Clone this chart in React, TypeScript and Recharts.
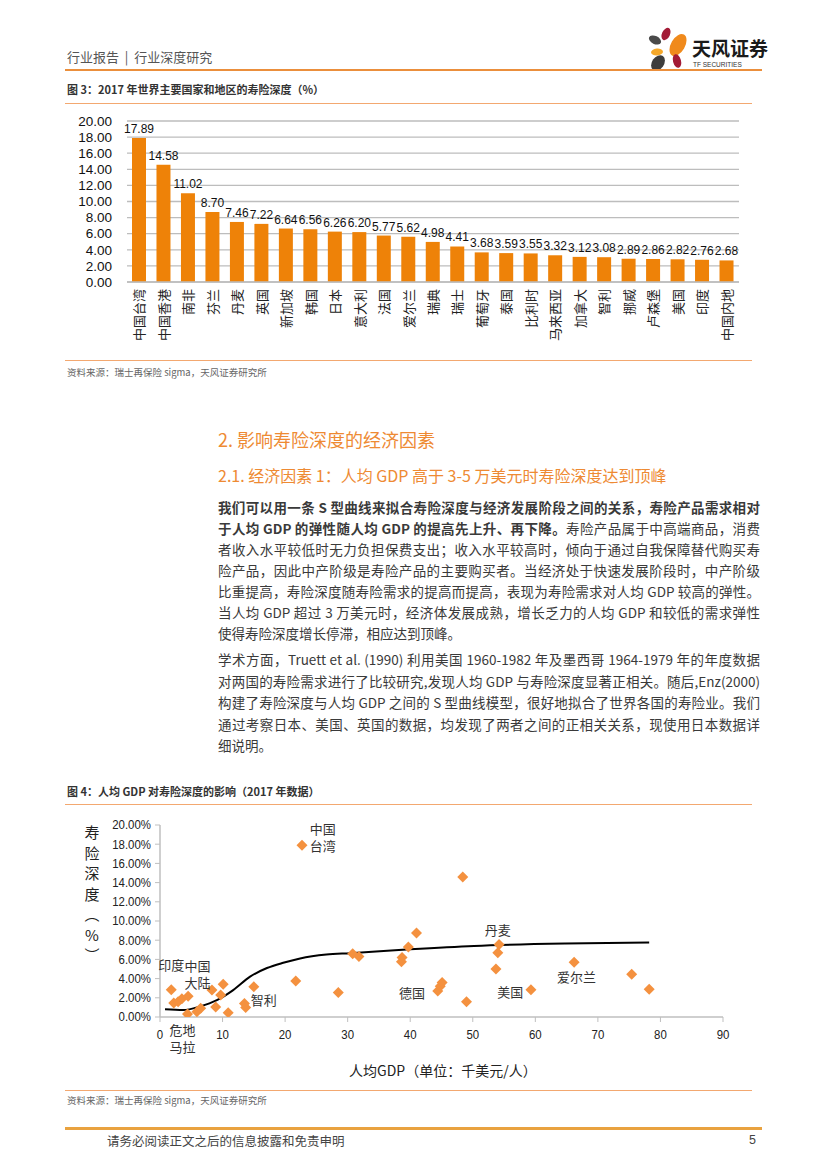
import React from 'react';
import {
  BarChart, Bar, XAxis, YAxis, CartesianGrid, LabelList,
  ComposedChart, Scatter, Line, ReferenceDot,
} from 'recharts';

// ---------- Figure 3 data ----------
const countries = ['中国台湾', '中国香港', '南非', '芬兰', '丹麦', '英国', '新加坡', '韩国', '日本', '意大利', '法国', '爱尔兰', '瑞典', '瑞士', '葡萄牙', '泰国', '比利时', '马来西亚', '加拿大', '智利', '挪威', '卢森堡', '美国', '印度', '中国内地'];
const depthValues = [17.89, 14.58, 11.02, 8.70, 7.46, 7.22, 6.64, 6.56, 6.26, 6.20, 5.77, 5.62, 4.98, 4.41, 3.68, 3.59, 3.55, 3.32, 3.12, 3.08, 2.89, 2.86, 2.82, 2.76, 2.68];
const barTicks = [0, 2, 4, 6, 8, 10, 12, 14, 16, 18, 20];

// ---------- Figure 4 data ----------
const gdpX = [1.8, 2.2, 2.9, 3.5, 4.5, 4.4, 5.9, 6.5, 8.3, 8.9, 9.7, 10.1, 10.9, 13.5, 13.7, 15.0, 21.7, 28.5, 30.8, 31.8, 38.7, 38.6, 39.7, 41.0, 44.4, 44.8, 45.1, 49.0, 48.4, 22.7, 54.2, 54.0, 53.7, 59.3, 66.2, 75.4, 78.2];
const depthY = [2.85, 1.45, 1.6, 1.9, 2.15, 0.3, 0.55, 0.9, 2.8, 1.05, 2.3, 3.4, 0.45, 1.4, 1.0, 3.15, 3.75, 2.55, 6.6, 6.3, 6.2, 5.75, 7.3, 8.75, 2.7, 3.2, 3.6, 1.6, 14.58, 17.89, 7.55, 6.7, 5.0, 2.85, 5.7, 4.45, 2.9];
const curveX = [0.8, 3.7, 6.4, 9.1, 11.7, 14.4, 17.1, 19.7, 22.4, 26.6, 30.4, 40, 50.2, 64.8, 78.2];
const curveY = [0.8, 0.73, 1.1, 1.75, 2.8, 4.2, 5.1, 5.65, 6.1, 6.5, 6.65, 7.05, 7.4, 7.65, 7.75];
const scatterXTicks = [0, 10, 20, 30, 40, 50, 60, 70, 80, 90];
const scatterYTicks = [0, 2, 4, 6, 8, 10, 12, 14, 16, 18, 20];
const annoLabels = [['中国', '台湾'], ['印度'], ['中国', '大陆'], ['危地', '马拉'], ['智利'], ['德国'], ['丹麦'], ['美国'], ['爱尔兰']];
const annoX = [26.0, 1.8, 6.0, 3.6, 16.6, 40.3, 54.0, 56.0, 66.6];
const annoY = [18.7, 5.4, 4.4, -2.2, 1.8, 2.5, 9.1, 2.6, 4.2];

const barData = countries.map((name, i) => ({ name, value: depthValues[i] }));
const scatterData = gdpX.map((x, i) => ({ x, y: depthY[i] }));
const curveData = curveX.map((x, i) => ({ x, y: curveY[i] }));

const CJK = '"Noto Sans CJK SC", "Noto Sans", sans-serif';
const LAT = '"Liberation Sans", Arial, sans-serif';
const ORANGE = '#EE8A33';

function CatTick(props: any) {
  const { x, y, payload } = props;
  return (
    <g transform={`translate(${x},${y})`}>
      <text transform="rotate(-90)" x={-7} y={0} dy={5} textAnchor="end" fontSize={13} fill="#222" fontFamily={CJK}>
        {payload.value}
      </text>
    </g>
  );
}

function PctTick(props: any) {
  const { x, y, payload } = props;
  return (
    <text x={x} y={y} dy={4.5} textAnchor="end" fontSize={13} fill="#222" fontFamily={LAT}
      transform={`translate(${x},0) scale(0.88,1) translate(${-x},0)`}>
      {payload.value.toFixed(2)}%
    </text>
  );
}

function NumTick(props: any) {
  const { x, y, payload } = props;
  return (
    <text x={x} y={y} dy={17} textAnchor="middle" fontSize={13} fill="#222" fontFamily={LAT}
      transform={`translate(${x},0) scale(0.88,1) translate(${-x},0)`}>
      {payload.value}
    </text>
  );
}

function Diamond(props: any) {
  const { cx, cy } = props;
  const s = 5.5;
  return <polygon points={`${cx},${cy - s} ${cx + s},${cy} ${cx},${cy + s} ${cx - s},${cy}`} fill="#F4913F" />;
}

function T({ x, y, size = 13, color = '#333', bold = false, children, font = CJK }: any) {
  const lh = size * 1.4;
  return (
    <div style={{ position: 'absolute', left: x, top: y - lh / 2, fontSize: size, lineHeight: `${lh}px`, color, fontWeight: bold ? 700 : 400, fontFamily: font, whiteSpace: 'pre' }}>
      {children}
    </div>
  );
}

function JL({ y, children, last = false }: any) {
  const lh = 20;
  return (
    <div style={{ position: 'absolute', left: 218, top: y - lh / 2, width: 542, fontSize: 13.5, lineHeight: `${lh}px`, color: '#3a3a3a', fontFamily: CJK, whiteSpace: 'nowrap', textAlign: last ? 'left' : 'justify', textAlignLast: last ? 'left' : 'justify' } as any}>
      {children}
    </div>
  );
}

function HLine({ y, x1 = 65, x2 = 762, h = 1, color = '#F2A66A' }: any) {
  return <div style={{ position: 'absolute', left: x1, top: y - h / 2, width: x2 - x1, height: h, background: color }} />;
}

const p1 = [
  <><b>我们可以用一条 S 型曲线来拟合寿险深度与经济发展阶段之间的关系，寿险产品需求相对</b></>,
  <><b>于人均 GDP 的弹性随人均 GDP 的提高先上升、再下降。</b>寿险产品属于中高端商品，消费</>,
  <>者收入水平较低时无力负担保费支出；收入水平较高时，倾向于通过自我保障替代购买寿</>,
  <>险产品，因此中产阶级是寿险产品的主要购买者。当经济处于快速发展阶段时，中产阶级</>,
  <>比重提高，寿险深度随寿险需求的提高而提高，表现为寿险需求对人均 GDP 较高的弹性。</>,
  <>当人均 GDP 超过 3 万美元时，经济体发展成熟，增长乏力的人均 GDP 和较低的需求弹性</>,
  <>使得寿险深度增长停滞，相应达到顶峰。</>,
];
const p2 = [
  <>学术方面，Truett et al. (1990) 利用美国 1960-1982 年及墨西哥 1964-1979 年的年度数据</>,
  <>对两国的寿险需求进行了比较研究,发现人均 GDP 与寿险深度显著正相关。随后,Enz(2000)</>,
  <>构建了寿险深度与人均 GDP 之间的 S 型曲线模型，很好地拟合了世界各国的寿险业。我们</>,
  <>通过考察日本、美国、英国的数据，均发现了两者之间的正相关关系，现使用日本数据详</>,
  <>细说明。</>,
];

const yTitle = ['寿', '险', '深', '度', '︵', '%', '︶'];

export default function App() {
  return (
    <div style={{ position: 'absolute', left: 0, top: 0, width: 827, height: 1169, background: '#fff', overflow: 'hidden' }}>
      {/* header */}
      <T x={67} y={57} size={13} color="#555">{'行业报告  |  行业深度研究'}</T>
      <svg style={{ position: 'absolute', left: 640, top: 26 }} width={130} height={50}>
        <ellipse cx={26} cy={8} rx={4} ry={6.5} transform="rotate(25 26 8)" fill="#A31B36" />
        <ellipse cx={38} cy={19} rx={7} ry={12} transform="rotate(30 38 19)" fill="#F08A1C" />
        <ellipse cx={15} cy={14} rx={6.5} ry={4} transform="rotate(25 15 14)" fill="#4a4a4a" />
        <ellipse cx={17} cy={26} rx={6} ry={3.5} transform="rotate(-5 17 26)" fill="#F5A82A" />
        <ellipse cx={18} cy={37} rx={6} ry={8.5} transform="rotate(35 18 37)" fill="#3d3d3d" />
        <ellipse cx={37} cy={35} rx={4} ry={7} transform="rotate(-15 37 35)" fill="#A31B36" />
        <text x={52} y={30} fontSize={19} fontWeight={700} fill="#1a1a1a" fontFamily={CJK}>天风证券</text>
        <text x={53} y={41} fontSize={6.5} fill="#333" fontFamily={LAT}>TF SECURITIES</text>
      </svg>
      <HLine y={70} h={2.5} color="#EB8F3C" />

      {/* figure 3 */}
      <T x={67} y={90} size={11} bold color="#333">图 3：2017 年世界主要国家和地区的寿险深度（%）</T>
      <HLine y={103} x2={752} color="#F3A870" />
      <div style={{ position: 'absolute', left: 60, top: 105 }}>
        <BarChart width={700} height={247} data={barData} margin={{ top: 16, right: 21, bottom: 0, left: 0 }} barSize={14}>
          <CartesianGrid vertical={false} stroke="#BDBDBD" strokeWidth={1.3} />
          <XAxis dataKey="name" interval={0} tick={<CatTick />} tickLine={false} axisLine={{ stroke: '#BDBDBD', strokeWidth: 1.3 }} height={70} tickSize={0} tickMargin={0} />
          <YAxis width={67} domain={[0, 20]} ticks={barTicks} interval={0} tickFormatter={(v: number) => v.toFixed(2)} axisLine={false} tickLine={false} tickSize={0} tickMargin={15} tick={{ fontSize: 13.5, fill: '#111', fontFamily: LAT }} />
          <Bar dataKey="value" fill="#EE8208" isAnimationActive={false}>
            <LabelList dataKey="value" position="top" offset={5} formatter={(v: any) => Number(v).toFixed(2)} style={{ fontSize: 12, fill: '#111', fontFamily: LAT }} />
          </Bar>
        </BarChart>
      </div>
      <HLine y={360} x2={752} color="#F3A870" />
      <T x={67} y={373} size={9.5} color="#666">资料来源：瑞士再保险 sigma，天风证券研究所</T>

      {/* section text */}
      <T x={218} y={440} size={18} color={ORANGE}>2. 影响寿险深度的经济因素</T>
      <T x={218} y={475} size={16} color={ORANGE}>2.1. 经济因素 1：人均 GDP 高于 3-5 万美元时寿险深度达到顶峰</T>
      {p1.map((c, i) => <JL key={'a' + i} y={507 + i * 21} last={i === p1.length - 1}>{c}</JL>)}
      {p2.map((c, i) => <JL key={'b' + i} y={659 + i * 21.5} last={i === p2.length - 1}>{c}</JL>)}

      {/* figure 4 */}
      <T x={67} y={792} size={11} bold color="#333">图 4：人均 GDP 对寿险深度的影响（2017 年数据）</T>
      <HLine y={804} x2={752} color="#F3A870" />
      {yTitle.map((ch, i) => (
        <div key={'yt' + i} style={{ position: 'absolute', left: 82, top: 822 + i * 20.5, width: 20, textAlign: 'center', fontSize: 15, lineHeight: '20px', color: '#222', fontFamily: CJK }}>{ch}</div>
      ))}
      <div style={{ position: 'absolute', left: 60, top: 810 }}>
        <ComposedChart width={700} height={260} margin={{ top: 15, right: 37, bottom: 0, left: 0 }}>
          <XAxis type="number" dataKey="x" domain={[0, 90]} ticks={scatterXTicks} interval={0} tick={<NumTick />} axisLine={{ stroke: '#BFBFBF', strokeWidth: 1.5 }} tickLine={{ stroke: '#BFBFBF' }} tickSize={5} tickMargin={0} height={53} allowDataOverflow />
          <YAxis type="number" dataKey="y" domain={[0, 20]} ticks={scatterYTicks} interval={0} tick={<PctTick />} axisLine={{ stroke: '#BFBFBF', strokeWidth: 1.5 }} tickLine={{ stroke: '#BFBFBF' }} tickSize={5} tickMargin={4} width={100} allowDataOverflow />
          <Scatter data={scatterData} dataKey="y" shape={<Diamond />} isAnimationActive={false} />
          <Line data={curveData} dataKey="y" type="monotone" stroke="#000" strokeWidth={2} dot={false} isAnimationActive={false} />
          {annoLabels.map((lines, i) => (
            <ReferenceDot key={'an' + i} x={annoX[i]} y={annoY[i]} ifOverflow="visible"
              shape={(p: any) => (
                <text x={p.cx} y={p.cy - ((lines.length - 1) * 17) / 2} textAnchor="middle" fontSize={13} fill="#333" fontFamily={CJK}>
                  {lines.map((l, j) => <tspan key={j} x={p.cx} dy={j === 0 ? 5 : 17}>{l}</tspan>)}
                </text>
              )} />
          ))}
        </ComposedChart>
      </div>
      <T x={349} y={1071} size={14} color="#222">人均GDP（单位：千美元/人）</T>
      <HLine y={1090} x2={752} color="#F3A870" />
      <T x={67} y={1101} size={9.5} color="#666">资料来源：瑞士再保险 sigma，天风证券研究所</T>

      {/* footer */}
      <HLine y={1128} h={3} color="#E9A23F" />
      <T x={107} y={1141} size={12.5} color="#444">请务必阅读正文之后的信息披露和免责申明</T>
      <T x={749} y={1141} size={12.5} color="#444" font={LAT}>5</T>
    </div>
  );
}
